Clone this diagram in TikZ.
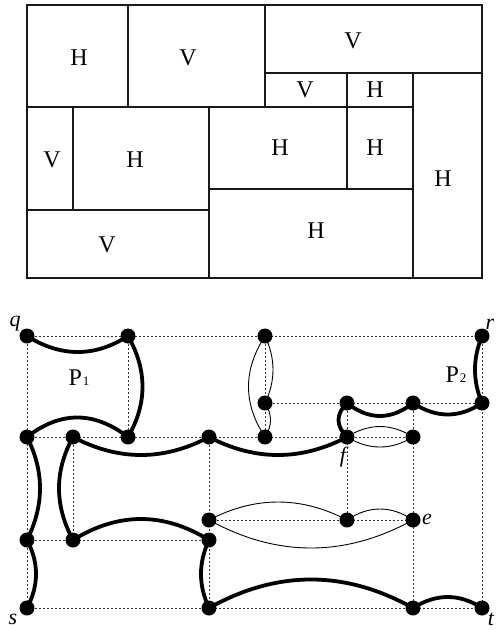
\documentclass[tikz,border=0pt]{standalone}
\usepackage{fontspec}
\setmainfont{Liberation Serif}
\usetikzlibrary{calc}
\pgfdeclarelayer{bg}
\pgfsetlayers{bg,main}
\newcommand\smallsub[1]{\kern1pt{\fontsize{13}{13}\selectfont #1}}
\begin{document}
\begin{tikzpicture}[x=1pt,y=-1pt,
  wall/.style={line width=1.6pt, line cap=round, black!90},
  room/.style={font=\fontsize{24}{24}\selectfont, inner sep=0pt},
  dot/.style={circle, fill=black, minimum size=15pt, inner sep=0pt},
  gridline/.style={dash pattern=on 2pt off 2pt, line width=0.8pt, black!80},
  heavy/.style={line width=3.8pt},
  light/.style={line width=0.9pt},
  quad/.style={to path={.. controls ($(\tikztostart)!0.6667!#1$) and ($(\tikztotarget)!0.6667!#1$) .. (\tikztotarget)}},
  lbl/.style={font=\fontsize{22}{22}\selectfont\itshape, inner sep=0pt},
  plbl/.style={font=\fontsize{24}{24}\selectfont, inner sep=0pt}]
\useasboundingbox (0,0) rectangle (496,630);
% ---------- floor plan ----------
\draw[wall] (27,5) rectangle (482,278);
\draw[wall] (128,5) -- (128,107);
\draw[wall] (265,5) -- (265,107);
\draw[wall] (265,73) -- (482,73);
\draw[wall] (27,107) -- (413,107);
\draw[wall] (347,73) -- (347,189);
\draw[wall] (413,73) -- (413,278);
\draw[wall] (73,107) -- (73,210);
\draw[wall] (209,107) -- (209,278);
\draw[wall] (27,210) -- (209,210);
\draw[wall] (209,189) -- (413,189);
\node[room] (r1) at (79,58) {H};
\node[room] (r2) at (188,58) {V};
\node[room] (r3) at (353,41) {V};
\node[room] (r4) at (305,90) {V};
\node[room] (r5) at (375,90) {H};
\node[room] (r6) at (52,160) {V};
\node[room] (r7) at (135,160) {H};
\node[room] (r8) at (280,148) {H};
\node[room] (r9) at (375,148) {H};
\node[room] (r10) at (443,179) {H};
\node[room] (r11) at (107,245) {V};
\node[room] (r12) at (316,231) {H};
% ---------- graph ----------
\node[dot] (q) at (27,336) {};
\node[dot] (a) at (128,336) {};
\node[dot] (w) at (265,336) {};
\node[dot] (r) at (482,336) {};
\node[dot] (x) at (265,403) {};
\node[dot] (p) at (347,403) {};
\node[dot] (u) at (413,403) {};
\node[dot] (v) at (482,403) {};
\node[dot] (c) at (27,437) {};
\node[dot] (d) at (73,437) {};
\node[dot] (b) at (128,437) {};
\node[dot] (k) at (209,437) {};
\node[dot] (y) at (265,437) {};
\node[dot] (f) at (347,437) {};
\node[dot] (z) at (413,437) {};
\node[dot] (j) at (209,520) {};
\node[dot] (i) at (347,520) {};
\node[dot] (e) at (413,520) {};
\node[dot] (g) at (27,540) {};
\node[dot] (h) at (73,540) {};
\node[dot] (m) at (209,540) {};
\node[dot] (s) at (27,608) {};
\node[dot] (n) at (209,608) {};
\node[dot] (o) at (413,608) {};
\node[dot] (t) at (482,608) {};
\begin{pgfonlayer}{bg}
% dotted dual grid
\draw[gridline] (q.center) -- (r.center);
\draw[gridline] (s.center) -- (t.center);
\draw[gridline] (q.center) -- (s.center);
\draw[gridline] (r.center) -- (t.center);
\draw[gridline] (a.center) -- (b.center);
\draw[gridline] (w.center) -- (y.center);
\draw[gridline] (x.center) -- (v.center);
\draw[gridline] (c.center) -- (z.center);
\draw[gridline] (p.center) -- (i.center);
\draw[gridline] (u.center) -- (o.center);
\draw[gridline] (d.center) -- (h.center);
\draw[gridline] (k.center) -- (n.center);
\draw[gridline] (g.center) -- (m.center);
\draw[gridline] (j.center) -- (e.center);
% heavy paths
\draw[heavy] (q.center) to[quad={(78,368)}] (a.center);
\draw[heavy] (a.center) to[quad={(157,387)}] (b.center);
\draw[heavy] (c.center) to[quad={(77,398)}] (b.center);
\draw[heavy] (c.center) to[quad={(53,488)}] (g.center);
\draw[heavy] (d.center) to[quad={(45,488)}] (h.center);
\draw[heavy] (d.center) to[quad={(141,473)}] (k.center);
\draw[heavy] (k.center) to[quad={(278,473)}] (f.center);
\draw[heavy] (h.center) to[quad={(141,498)}] (m.center);
\draw[heavy] (g.center) to[quad={(45,574)}] (s.center);
\draw[heavy] (m.center) to[quad={(193,574)}] (n.center);
\draw[heavy] (n.center) to[quad={(311,551)}] (o.center);
\draw[heavy] (o.center) to[quad={(448,586)}] (t.center);
\draw[heavy] (f.center) to[quad={(330,420)}] (p.center);
\draw[heavy] (p.center) to[quad={(380,429)}] (u.center);
\draw[heavy] (u.center) to[quad={(448,426)}] (v.center);
\draw[heavy] (v.center) to[quad={(468,370)}] (r.center);
% light paths
\draw[light] (w.center) to[quad={(232,387)}] (y.center);
\draw[light] (w.center) to[quad={(281,370)}] (x.center);
\draw[light] (x.center) to[quad={(276,420)}] (y.center);
\draw[light] (f.center) to[quad={(380,416)}] (z.center);
\draw[light] (f.center) to[quad={(380,457)}] (z.center);
\draw[light] (j.center) to[quad={(278,484)}] (i.center);
\draw[light] (j.center) to[quad={(311,576)}] (e.center);
\draw[light] (i.center) to[quad={(380,498)}] (e.center);
\end{pgfonlayer}
% labels
\node[lbl] (lq) at (15,324) {q};
\node[lbl] (lr) at (490,324) {r};
\node[lbl] (ls) at (13,619) {s};
\node[lbl] (lt) at (491,619) {t};
\node[lbl] (lf) at (343,457) {f};
\node[lbl] (le) at (427,519) {e};
\node[plbl] (p1) at (79,378) {P\smallsub{1}};
\node[plbl] (p2) at (456,375) {P\smallsub{2}};
\end{tikzpicture}
\end{document}
